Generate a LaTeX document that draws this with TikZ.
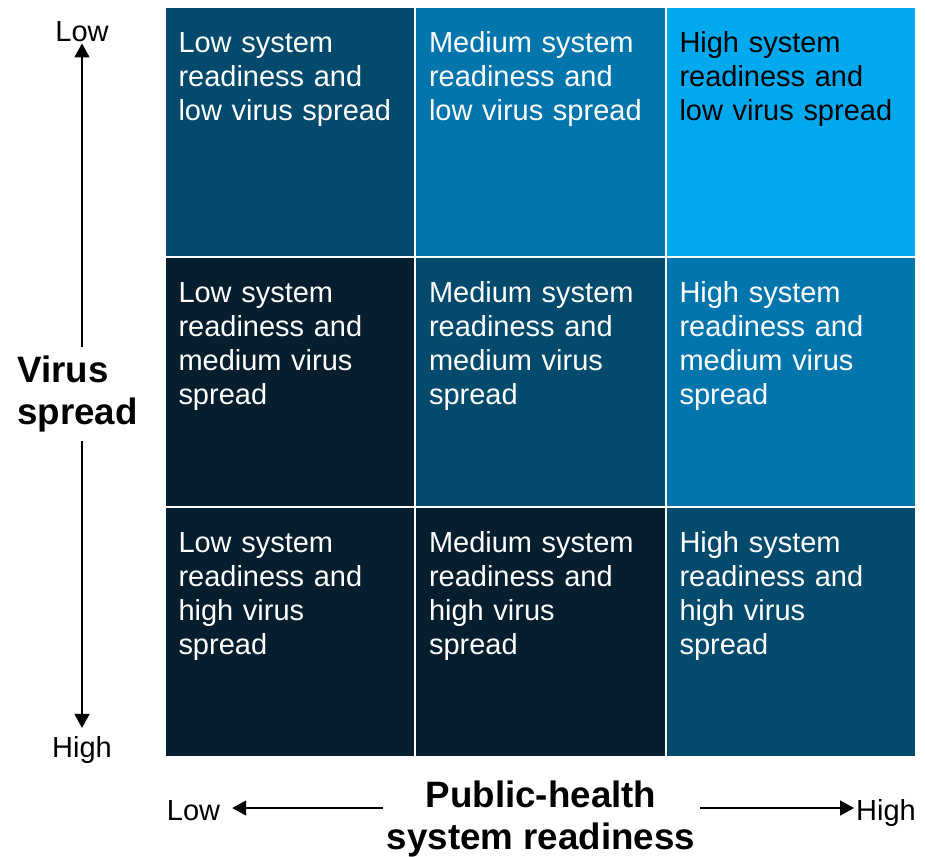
\documentclass[tikz,border=0pt]{standalone}
\usepackage{fontspec}
\setmainfont{Liberation Sans}
\usetikzlibrary{arrows.meta}

\definecolor{gridDark}{RGB}{7,30,47}
\definecolor{gridMid}{RGB}{3,74,108}
\definecolor{gridBlue}{RGB}{2,118,172}
\definecolor{gridBright}{RGB}{0,168,238}

\tikzset{
  cell/.style={draw=white, line width=1pt, minimum width=5cm, minimum height=5cm, inner sep=0pt},
  celltext/.style={anchor=base west, text width=4.8cm, align=left, inner sep=0pt, text=white,
    font=\fontsize{16.5}{19.5}\selectfont},
  axislabel/.style={anchor=base, inner sep=1pt, font=\fontsize{16.5}{19.5}\selectfont},
  axistitle/.style={inner sep=0pt, font=\bfseries\fontsize{20.9}{23.4}\selectfont},
  axisarrow/.style={line width=0.85pt, -{Triangle[width=0.3cm,length=0.28cm]}}
}

\begin{document}
\begin{tikzpicture}[x=0.02cm,y=-0.02cm]
    \useasboundingbox (0,0) rectangle (925,856);

    % grid cells
    \node[cell, fill=gridMid]    (c11) at (290,132) {};
    \node[cell, fill=gridBlue]   (c21) at (540.5,132) {};
    \node[cell, fill=gridBright] (c31) at (791,132) {};

    \node[cell, fill=gridDark]   (c12) at (290,382) {};
    \node[cell, fill=gridMid]    (c22) at (540.5,382) {};
    \node[cell, fill=gridBlue]   (c32) at (791,382) {};

    \node[cell, fill=gridDark]   (c13) at (290,632) {};
    \node[cell, fill=gridDark]   (c23) at (540.5,632) {};
    \node[cell, fill=gridMid]    (c33) at (791,632) {};

    \node[celltext] (t11) at ([shift={(14,46)}]c11.north west) {Low system\\readiness and\\low virus spread};
    \node[celltext] (t21) at ([shift={(14,46)}]c21.north west) {Medium system\\readiness and\\low virus spread};
    \node[celltext, text=black] (t31) at ([shift={(14,46)}]c31.north west) {High system\\readiness and\\low virus spread};

    \node[celltext] (t12) at ([shift={(14,46)}]c12.north west) {Low system\\readiness and\\medium virus\\spread};
    \node[celltext] (t22) at ([shift={(14,46)}]c22.north west) {Medium system\\readiness and\\medium virus\\spread};
    \node[celltext] (t32) at ([shift={(14,46)}]c32.north west) {High system\\readiness and\\medium virus\\spread};

    \node[celltext] (t13) at ([shift={(14,46)}]c13.north west) {Low system\\readiness and\\high virus\\spread};
    \node[celltext] (t23) at ([shift={(14,46)}]c23.north west) {Medium system\\readiness and\\high virus\\spread};
    \node[celltext] (t33) at ([shift={(14,46)}]c33.north west) {High system\\readiness and\\high virus\\spread};

    % vertical axis
    \node[axislabel] (lowY) at (82,41) {Low};
    \node[axislabel] (highY) at (82,757) {High};
    \node[axistitle, align=left, anchor=west] (virus) at (17,394) {Virus\\spread};

    \draw[axisarrow, shorten <=0.18cm] (virus.north -| lowY) -- (lowY.south);
    \draw[axisarrow, shorten <=0.18cm, shorten >=0.12cm] (virus.south -| highY) -- (highY.north);

    % horizontal axis
    \node[axislabel] (lowX) at (193.5,820) {Low};
    \node[axislabel] (highX) at (886,820) {High};
    \node[axistitle, align=center] (health) at (541,819) {Public-health\\system readiness};
    \coordinate (arrL) at (383,808);
    \coordinate (arrR) at (700,808);

    \draw[axisarrow, shorten >=0.2cm] (arrL) -- (arrL -| lowX.east);
    \draw[axisarrow] (arrR) -- (arrR -| highX.west);

\end{tikzpicture}
\end{document}
